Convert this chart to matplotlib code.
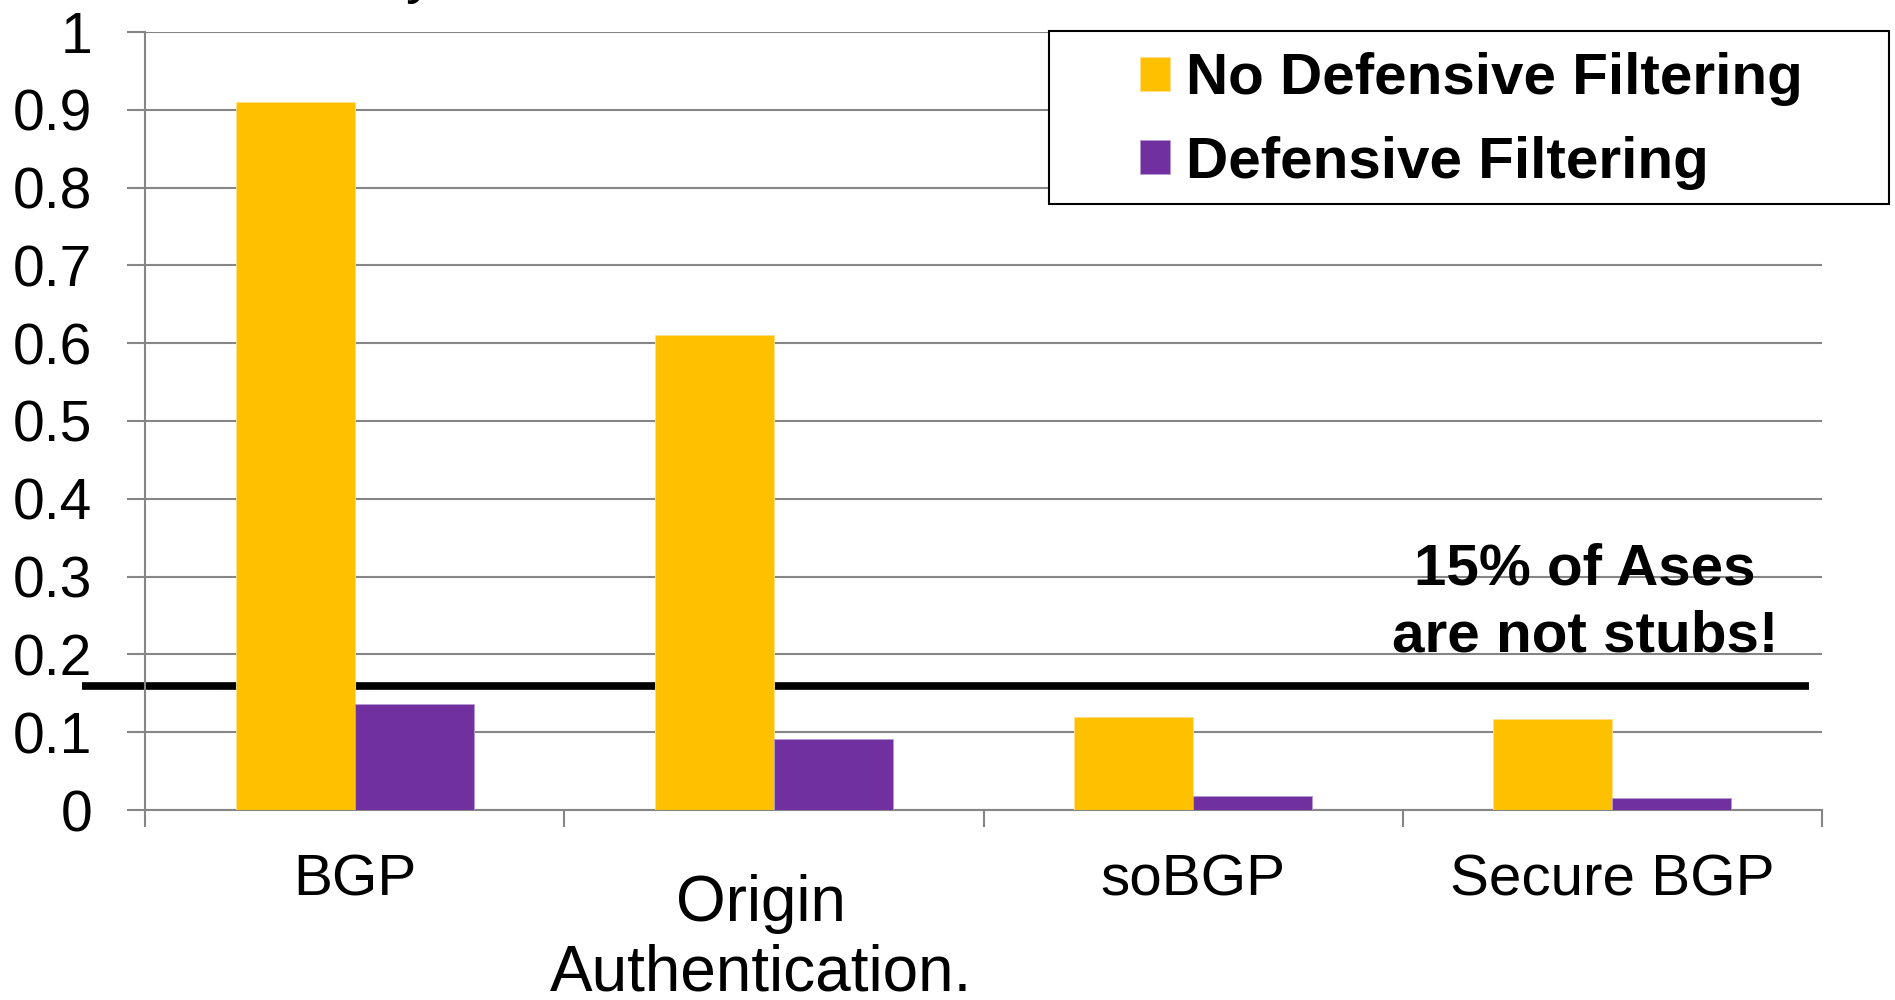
import matplotlib
matplotlib.use('Agg')
import matplotlib.pyplot as plt
import matplotlib.transforms as mtransforms
from matplotlib.patches import Rectangle
import numpy as np

plt.rcParams['font.family'] = ['Liberation Sans', 'DejaVu Sans']

# data
schemes = ['BGP', 'Origin\nAuthentication.', 'soBGP', 'Secure BGP']
no_filtering = [0.91, 0.61, 0.12, 0.117]
filtering = [0.136, 0.091, 0.0175, 0.016]
series_names = ['No Defensive Filtering', 'Defensive Filtering']
yticks = [0, 0.1, 0.2, 0.3, 0.4, 0.5, 0.6, 0.7, 0.8, 0.9, 1]
ytick_labels = ['0', '0.1', '0.2', '0.3', '0.4', '0.5', '0.6', '0.7', '0.8', '0.9', '1']
non_stub_share = 0.16
note = '15% of Ases\nare not stubs!'

yellow = '#FFC000'
purple = '#7030A0'
grey = '#868686'

fig = plt.figure(figsize=(18.95, 10), dpi=100)
ax = fig.add_axes([145/1895, 0.19, 1677/1895, 0.778])

x = np.arange(len(schemes))
w = 0.284
b1 = ax.bar(x - w/2, no_filtering, w, color=yellow, edgecolor='#FFE08A', linewidth=0.6, zorder=3)
b2 = ax.bar(x + w/2, filtering, w, color=purple, edgecolor='#B89AD0', linewidth=0.6, zorder=3)

ax.set_xlim(-0.5, len(schemes) - 0.5)
ax.set_ylim(0, 1)

# gridlines and axes in the office-chart grey
ax.set_yticks(yticks)
ax.set_yticklabels(ytick_labels)
ax.yaxis.grid(True, color=grey, linewidth=1.5, zorder=0)
ax.tick_params(axis='y', length=13, width=1.5, color=grey, pad=25, labelsize=41)
ax.set_xticks(np.arange(len(schemes) + 1) - 0.5)
ax.set_xticklabels([])
ax.tick_params(axis='x', length=12, width=1.5, color=grey)
for s in ['top', 'right']:
    ax.spines[s].set_visible(False)
for s in ['left', 'bottom']:
    ax.spines[s].set_color(grey)
    ax.spines[s].set_linewidth(1.5)
ax.set_axisbelow(True)

# category names below the axis
lab_tr = mtransforms.blended_transform_factory(ax.transData, fig.transFigure)
for i, name in enumerate(schemes):
    if '\n' in name:
        ax.text(i - 0.03, 0.061, name, transform=lab_tr, ha='center', va='center',
                fontsize=46, linespacing=1.21)
    else:
        ax.text(i, 0.12, name, transform=lab_tr, ha='center', va='center', fontsize=42)

# share of non-stub ASes, drawn behind the bars
line_tr = mtransforms.blended_transform_factory(ax.transAxes, ax.transData)
ax.plot([-0.0376, 0.992], [non_stub_share, non_stub_share], color='black', linewidth=5.5,
        transform=line_tr, clip_on=False, zorder=2, solid_capstyle='butt')
ax.text(2.935, 0.266, note, ha='center', va='center', fontsize=42, fontweight='bold',
        linespacing=1.3, zorder=4)

# legend in a plain black box
fig.patches.append(Rectangle((1049/1895, 1 - 204/1000), 840/1895, 173/1000,
                             transform=fig.transFigure, facecolor='white',
                             edgecolor='black', linewidth=1.5, zorder=5))
leg = fig.legend([b1, b2], series_names, loc='center', bbox_to_anchor=(1471/1895, 1 - 121/1000),
                 frameon=False, prop={'size': 42, 'weight': 'bold'}, handlelength=0.52,
                 handleheight=0.52, handletextpad=0.27, labelspacing=0.5)
leg.set_zorder(6)

# clipped heading at the top edge
fig.text(0.214, 1.008, 'y', fontsize=42, va='baseline')

fig.savefig('out.png', dpi=100)
